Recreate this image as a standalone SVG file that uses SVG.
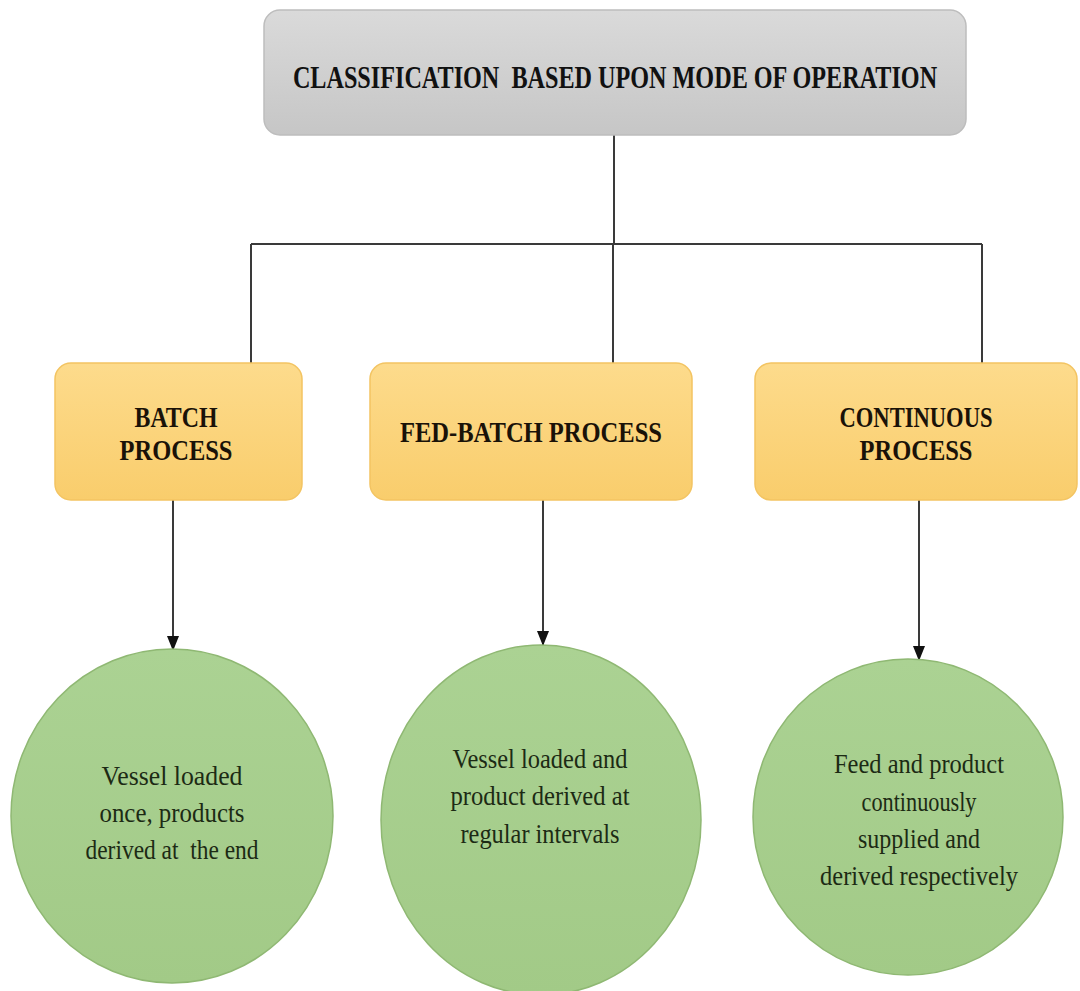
<svg xmlns="http://www.w3.org/2000/svg" width="1080" height="991" viewBox="0 0 1080 991">
  <defs>
    <linearGradient id="gradGray" x1="0" y1="0" x2="0" y2="1">
      <stop offset="0" stop-color="#dadada"/>
      <stop offset="1" stop-color="#c6c6c6"/>
    </linearGradient>
    <linearGradient id="gradOrange" x1="0" y1="0" x2="0" y2="1">
      <stop offset="0" stop-color="#fddb8c"/>
      <stop offset="1" stop-color="#f9cd6c"/>
    </linearGradient>
    <linearGradient id="gradGreen" x1="0" y1="0" x2="0" y2="1">
      <stop offset="0" stop-color="#abd293"/>
      <stop offset="1" stop-color="#a2ca87"/>
    </linearGradient>
    <marker id="arrow" viewBox="0 0 15 12" refX="14" refY="6" markerWidth="15" markerHeight="12" markerUnits="userSpaceOnUse" orient="auto">
      <path d="M0,0 L15,6 L0,12 Z" fill="#111"/>
    </marker>
  </defs>
  <style>
    .title { font-family: "Liberation Serif", "Times New Roman", serif; font-weight: bold; fill: #111; }
    .proc  { font-family: "Liberation Serif", "Times New Roman", serif; font-weight: bold; fill: #1a1208; }
    .desc  { font-family: "Liberation Serif", "Times New Roman", serif; fill: #1c2a14; }
    .box-gray   { fill: url(#gradGray); stroke: #bdbdbd; stroke-width: 1.5; }
    .box-orange { fill: url(#gradOrange); stroke: #f3c462; stroke-width: 1.5; }
    .circle-green { fill: url(#gradGreen); stroke: #8fb873; stroke-width: 1.5; }
    .link { fill: none; stroke: #3a3a3a; stroke-width: 2; }
  </style>

  <rect width="1080" height="991" fill="#ffffff"/>

  <!-- connectors -->
  <g id="connectors">
    <path class="link" d="M614,135 V244"/>
    <path class="link" d="M251,244 H982"/>
    <path class="link" d="M251,244 V364"/>
    <path class="link" d="M613,244 V364"/>
    <path class="link" d="M982,244 V364"/>
    <path class="link" d="M173,500 V650" marker-end="url(#arrow)"/>
    <path class="link" d="M543,490 V645" marker-end="url(#arrow)"/>
    <path class="link" d="M919,500 V660" marker-end="url(#arrow)"/>
  </g>

  <!-- root -->
  <g id="node-classification">
    <rect class="box-gray" x="264" y="10" width="702" height="125" rx="16"/>
    <text class="title" xml:space="preserve" transform="translate(615,88) scale(0.75,1)" x="0" y="0" font-size="32" text-anchor="middle" textLength="859" lengthAdjust="spacingAndGlyphs">CLASSIFICATION  BASED UPON MODE OF OPERATION</text>
  </g>

  <!-- process boxes -->
  <g id="node-batch">
    <rect class="box-orange" x="55" y="363" width="247" height="137" rx="16"/>
    <text class="proc" x="176" y="427" font-size="30" text-anchor="middle" textLength="83" lengthAdjust="spacingAndGlyphs">BATCH</text>
    <text class="proc" x="176" y="460" font-size="30" text-anchor="middle" textLength="113" lengthAdjust="spacingAndGlyphs">PROCESS</text>
  </g>

  <g id="node-fed-batch">
    <rect class="box-orange" x="370" y="363" width="322" height="137" rx="16"/>
    <text class="proc" x="531" y="442" font-size="30" text-anchor="middle" textLength="262" lengthAdjust="spacingAndGlyphs">FED-BATCH PROCESS</text>
  </g>

  <g id="node-continuous">
    <rect class="box-orange" x="755" y="363" width="322" height="137" rx="16"/>
    <text class="proc" x="916" y="427" font-size="30" text-anchor="middle" textLength="153" lengthAdjust="spacingAndGlyphs">CONTINUOUS</text>
    <text class="proc" x="916" y="460" font-size="30" text-anchor="middle" textLength="113" lengthAdjust="spacingAndGlyphs">PROCESS</text>
  </g>

  <!-- descriptions -->
  <g id="node-batch-desc">
    <ellipse class="circle-green" cx="172" cy="816" rx="161" ry="167"/>
    <text class="desc" x="172" y="785" font-size="27" text-anchor="middle" textLength="141" lengthAdjust="spacingAndGlyphs">Vessel loaded</text>
    <text class="desc" x="172" y="822" font-size="27" text-anchor="middle" textLength="145" lengthAdjust="spacingAndGlyphs">once, products</text>
    <text class="desc" xml:space="preserve" x="172" y="859" font-size="27" text-anchor="middle" textLength="173" lengthAdjust="spacingAndGlyphs">derived at  the end</text>
  </g>

  <g id="node-fed-batch-desc">
    <ellipse class="circle-green" cx="541" cy="820" rx="160" ry="175"/>
    <text class="desc" x="540" y="768" font-size="27" text-anchor="middle" textLength="175" lengthAdjust="spacingAndGlyphs">Vessel loaded and</text>
    <text class="desc" x="540" y="805" font-size="27" text-anchor="middle" textLength="179" lengthAdjust="spacingAndGlyphs">product derived at</text>
    <text class="desc" x="540" y="843" font-size="27" text-anchor="middle" textLength="159" lengthAdjust="spacingAndGlyphs">regular intervals</text>
  </g>

  <g id="node-continuous-desc">
    <ellipse class="circle-green" cx="908" cy="817" rx="155" ry="158"/>
    <text class="desc" x="919" y="773" font-size="27" text-anchor="middle" textLength="170" lengthAdjust="spacingAndGlyphs">Feed and product</text>
    <text class="desc" x="919" y="811" font-size="27" text-anchor="middle" textLength="115" lengthAdjust="spacingAndGlyphs">continuously</text>
    <text class="desc" x="919" y="848" font-size="27" text-anchor="middle" textLength="122" lengthAdjust="spacingAndGlyphs">supplied and</text>
    <text class="desc" x="919" y="885" font-size="27" text-anchor="middle" textLength="198" lengthAdjust="spacingAndGlyphs">derived respectively</text>
  </g>
</svg>
